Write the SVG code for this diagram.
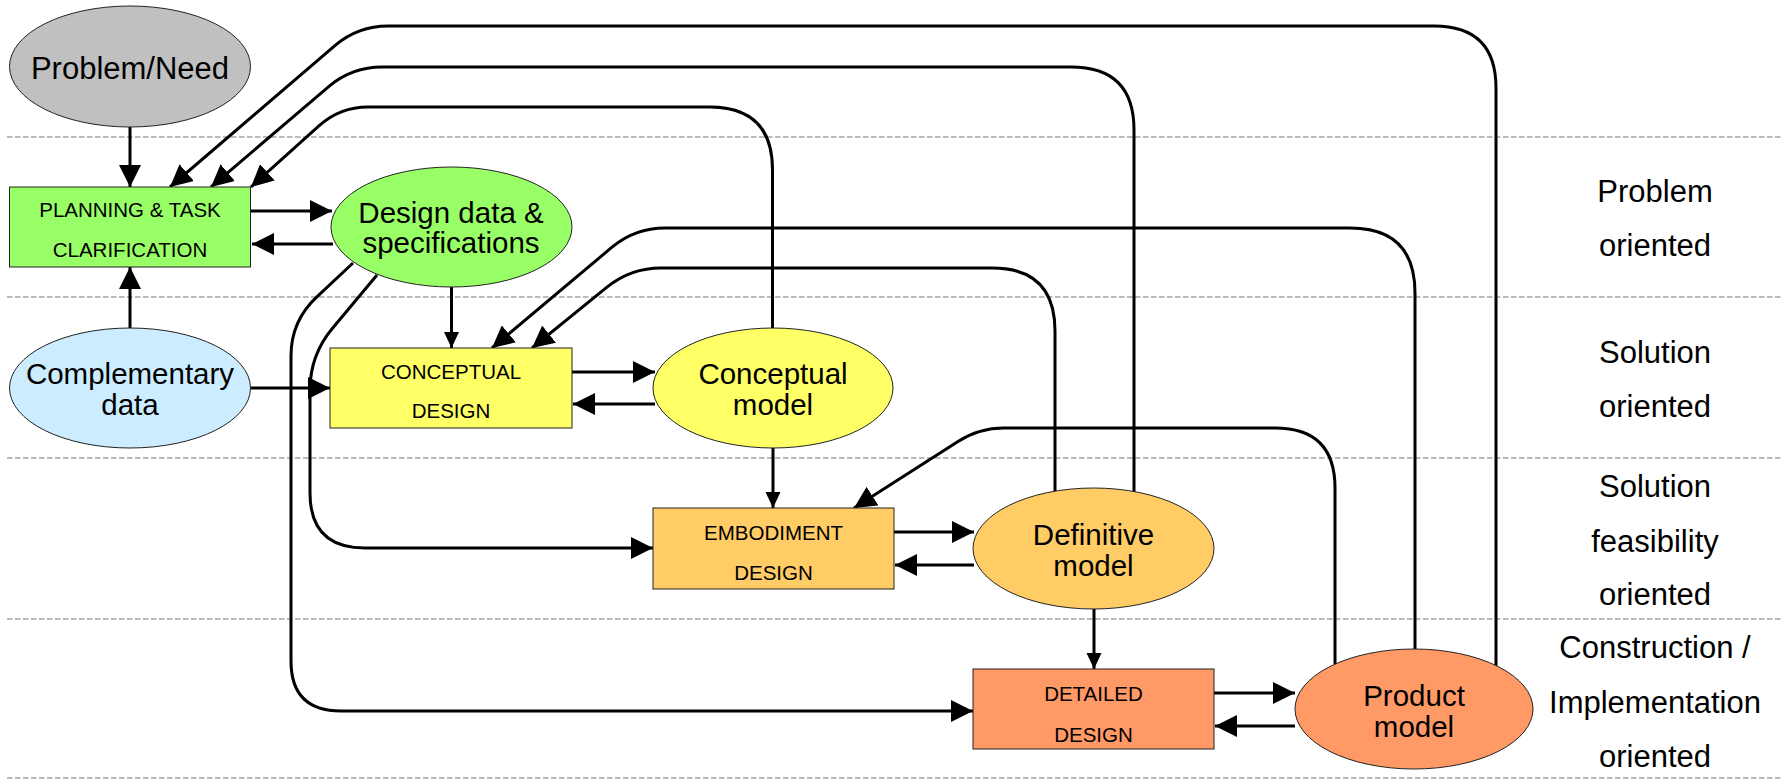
<svg xmlns="http://www.w3.org/2000/svg" width="1783" height="780" viewBox="0 0 1783 780">
  <style>
    .node { stroke: #222; stroke-width: 1; }
    .big { font-family: "Liberation Sans", Arial, sans-serif; font-size: 31px; fill: #000; text-anchor: middle; }
    .two { font-family: "Liberation Sans", Arial, sans-serif; font-size: 29.5px; fill: #000; text-anchor: middle; }
    .box { font-family: "Liberation Sans", Arial, sans-serif; font-size: 20.5px; fill: #000; text-anchor: middle; }
    .lane { stroke: #777; stroke-width: 1.2; stroke-dasharray: 5.5 2.5; fill: none; }
    .conn { stroke: #000; stroke-width: 3; fill: none; }
    .arr { marker-end: url(#ah); }
    .arrs { marker-end: url(#ahs); }
  </style>
  <defs>
    <marker id="ah" markerUnits="userSpaceOnUse" markerWidth="22" markerHeight="22" viewBox="0 0 20 20" refX="20" refY="10" orient="auto">
      <path d="M0,0 L20,10 L0,20 z" fill="#000"/>
    </marker>
    <marker id="ahs" markerUnits="userSpaceOnUse" markerWidth="16" markerHeight="16" viewBox="0 0 16 15" refX="16" refY="7.5" orient="auto">
      <path d="M0,0 L16,7.5 L0,15 z" fill="#000"/>
    </marker>
  </defs>
  <rect x="0" y="0" width="1783" height="780" fill="#fff"/>

  <g id="lanes">
    <line class="lane" x1="7" y1="137" x2="1783" y2="137"/>
    <line class="lane" x1="7" y1="297" x2="1783" y2="297"/>
    <line class="lane" x1="7" y1="458" x2="1783" y2="458"/>
    <line class="lane" x1="7" y1="619" x2="1783" y2="619"/>
    <line class="lane" x1="7" y1="778" x2="1783" y2="778"/>
  </g>

  <g id="lane-labels">
    <text class="big" x="1655" y="202">Problem</text>
    <text class="big" x="1655" y="256">oriented</text>
    <text class="big" x="1655" y="363">Solution</text>
    <text class="big" x="1655" y="417">oriented</text>
    <text class="big" x="1655" y="497">Solution</text>
    <text class="big" x="1655" y="552">feasibility</text>
    <text class="big" x="1655" y="605">oriented</text>
    <text class="big" x="1655" y="658">Construction /</text>
    <text class="big" x="1655" y="713">Implementation</text>
    <text class="big" x="1655" y="767">oriented</text>
  </g>

  <g id="connectors">
    <line class="conn arr" x1="130" y1="127" x2="130" y2="187"/>
    <line class="conn arr" x1="130" y1="328" x2="130" y2="267"/>
    <line class="conn arrs" x1="451.5" y1="287" x2="451.5" y2="348"/>
    <line class="conn arrs" x1="773" y1="448" x2="773" y2="508"/>
    <line class="conn arrs" x1="1094" y1="609" x2="1094" y2="669"/>
    <line class="conn arr" x1="251" y1="211" x2="332" y2="211"/>
    <line class="conn arr" x1="333" y1="244" x2="252" y2="244"/>
    <line class="conn arr" x1="251" y1="388" x2="330" y2="388"/>
    <line class="conn arr" x1="572" y1="372" x2="655" y2="372"/>
    <line class="conn arr" x1="655" y1="404" x2="573" y2="404"/>
    <line class="conn arr" x1="894" y1="532" x2="974" y2="532"/>
    <line class="conn arr" x1="974" y1="565" x2="895" y2="565"/>
    <line class="conn arr" x1="1213" y1="693" x2="1295" y2="693"/>
    <line class="conn arr" x1="1295" y1="726" x2="1215" y2="726"/>
    <path class="conn arr" d="M1496,666 L1496,88 Q1496,26 1434,26 L388,26 Q358,26 335.2,45.4 L170,187"/>
    <path class="conn arr" d="M1134,492 L1134,130 Q1134,67 1071,67 L382,67 Q352,67 329,86.3 L211,187"/>
    <path class="conn arr" d="M772.5,328 L772.5,170 Q772.5,107 709.5,107 L368,107 Q340,107 319.2,125.7 L251,187"/>
    <path class="conn arr" d="M1415,649 L1415,293 Q1415,228 1350,228 L665,228 Q635,228 612,247.2 L492,348"/>
    <path class="conn arr" d="M1055,491 L1055,331 Q1055,268 992,268 L661,268 Q631,268 607.6,286.7 L532,348"/>
    <path class="conn arr" d="M1335,664 L1335,488 Q1335,428 1275,428 L1004,428 Q979,428 958,441.5 L854,508"/>
    <path class="conn arr" d="M353,263 L316.6,297.1 Q291,321 291,356 L291,661 Q291,711 341,711 L973,711"/>
    <path class="conn arr" d="M377,275 L332.5,328.2 Q310,355 310,390 L310,493 Q310,548 365,548 L653,548"/>
  </g>

  <g id="problem-need">
    <ellipse class="node" cx="130" cy="66.5" rx="120.5" ry="60.5" fill="#C0C0C0"/>
    <text class="big" x="130" y="79">Problem/Need</text>
  </g>
  <g id="planning">
    <rect class="node" x="9.5" y="187" width="241" height="80" fill="#99FF66"/>
    <text class="box" x="130" y="217">PLANNING &amp; TASK</text>
    <text class="box" x="130" y="257">CLARIFICATION</text>
  </g>
  <g id="design-data">
    <ellipse class="node" cx="451.5" cy="227" rx="120.5" ry="60" fill="#99FF66"/>
    <text class="two" x="451" y="223">Design data &amp;</text>
    <text class="two" x="451" y="253">specifications</text>
  </g>
  <g id="complementary">
    <ellipse class="node" cx="130" cy="388" rx="120.5" ry="60" fill="#CCECFF"/>
    <text class="two" x="130" y="384">Complementary</text>
    <text class="two" x="130" y="415">data</text>
  </g>
  <g id="conceptual-design">
    <rect class="node" x="330" y="348" width="242" height="80" fill="#FFFF66"/>
    <text class="box" x="451" y="379">CONCEPTUAL</text>
    <text class="box" x="451" y="418">DESIGN</text>
  </g>
  <g id="conceptual-model">
    <ellipse class="node" cx="773" cy="388" rx="120" ry="60" fill="#FFFF66"/>
    <text class="two" x="773" y="384">Conceptual</text>
    <text class="two" x="773" y="415">model</text>
  </g>
  <g id="embodiment-design">
    <rect class="node" x="653" y="508" width="241" height="81" fill="#FFCC66"/>
    <text class="box" x="773.5" y="540">EMBODIMENT</text>
    <text class="box" x="773.5" y="580">DESIGN</text>
  </g>
  <g id="definitive-model">
    <ellipse class="node" cx="1093.5" cy="548.5" rx="120.5" ry="60.5" fill="#FFCC66"/>
    <text class="two" x="1093.5" y="545">Definitive</text>
    <text class="two" x="1093.5" y="576">model</text>
  </g>
  <g id="detailed-design">
    <rect class="node" x="973" y="669" width="241" height="80" fill="#FF9966"/>
    <text class="box" x="1093.5" y="701">DETAILED</text>
    <text class="box" x="1093.5" y="742">DESIGN</text>
  </g>
  <g id="product-model">
    <ellipse class="node" cx="1414" cy="709" rx="119" ry="60" fill="#FF9966"/>
    <text class="two" x="1414" y="706">Product</text>
    <text class="two" x="1414" y="737">model</text>
  </g>
</svg>
